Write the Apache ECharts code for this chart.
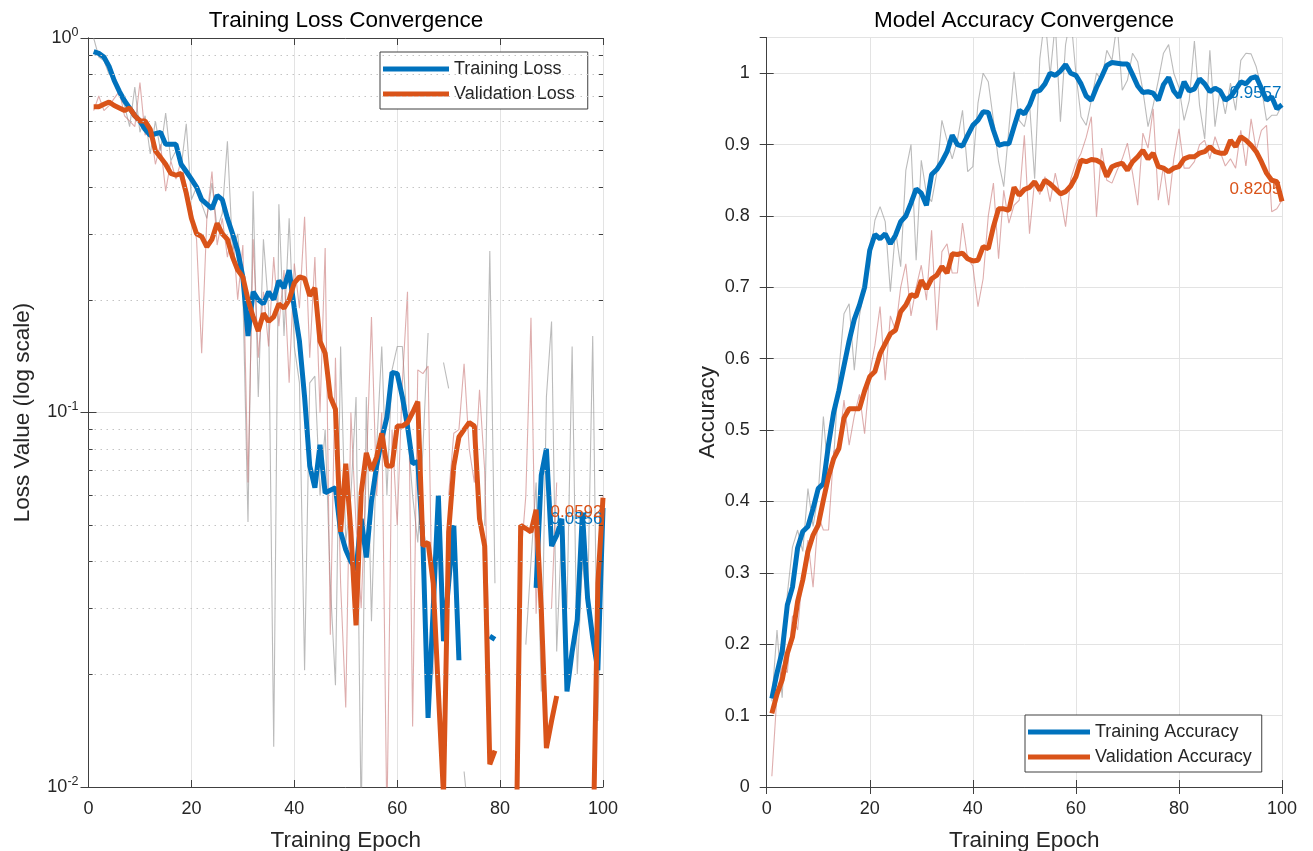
<!DOCTYPE html>
<html>
<head>
<meta charset="utf-8">
<title>Training Convergence</title>
<script src="https://cdn.jsdelivr.net/npm/echarts@6/dist/echarts.min.js"></script>
<style>
  html, body { margin: 0; padding: 0; background: #fff; }
  #main { width: 1313px; height: 851px; }
</style>
</head>
<body>
<div id="main"></div>
<script>
// epochs 1..100
const epochs = Array.from({ length: 100 }, (_, i) => i + 1);

// ---- loss panel (log scale), null = value not positive -> gap ----
const rawTrainLoss = [
  1.00, 0.89, 0.87, 0.80, 0.79, 0.70, 0.66, 0.58, 0.74, 0.56,
  0.62, 0.49, 0.60, 0.50, 0.63, 0.47, 0.50, 0.45, 0.59, 0.37,
  0.40, 0.36, 0.33, 0.41, 0.31, 0.34, 0.53, 0.27, 0.30, 0.21,
  0.051, 0.39, 0.11, 0.29, 0.19, 0.0128, 0.36, 0.16, 0.33, 0.15,
  0.12, 0.0205, 0.12, 0.125, 0.06, 0.09, 0.035, 0.0187, 0.15, 0.045,
  0.06, 0.11, 0.008, 0.11, 0.0277, 0.08, 0.15, 0.06, 0.13, 0.15,
  0.15, 0.09, 0.06, 0.045, 0.08, 0.163, null, null, 0.136, 0.116,
  null, null, 0.011, 0.008, null, null, 0.05, 0.27, 0.035, null,
  null, null, null, null, 0.024, 0.04, 0.065, 0.018, 0.11, 0.175,
  0.023, 0.05, 0.03, 0.15, 0.02, 0.04, 0.03, 0.16, 0.015, 0.055
];
const rawValLoss = [
  0.64, 0.70, 0.64, 0.66, 0.69, 0.72, 0.62, 0.60, 0.58, 0.76,
  0.55, 0.58, 0.46, 0.52, 0.39, 0.47, 0.42, 0.47, 0.40, 0.35,
  0.29, 0.144, 0.33, 0.44, 0.28, 0.33, 0.26, 0.31, 0.20, 0.28,
  0.065, 0.29, 0.14, 0.21, 0.15, 0.26, 0.17, 0.24, 0.12, 0.25,
  0.19, 0.333, 0.14, 0.26, 0.10, 0.275, 0.0255, 0.14, 0.035, 0.0163,
  0.10, 0.05, 0.03, 0.07, 0.18, 0.06, 0.10, 0.008, 0.09, 0.05,
  0.12, 0.21, 0.0145, 0.13, 0.127, 0.133, 0.02, null, null, 0.06,
  0.088, 0.09, 0.135, 0.08, 0.065, 0.115, 0.07, 0.02, null, null,
  null, null, null, 0.04, 0.06, 0.179, 0.029, 0.07, null, 0.03,
  0.065, null, null, null, null, null, null, null, 0.03, 0.06
];
const trainLoss = [
  0.92, 0.91, 0.89, 0.84, 0.77, 0.72, 0.68, 0.65, 0.62, 0.60,
  0.57, 0.55, 0.555, 0.56, 0.52, 0.52, 0.52, 0.46, 0.44, 0.42,
  0.40, 0.37, 0.36, 0.35, 0.38, 0.37, 0.33, 0.30, 0.27, 0.23,
  0.16, 0.21, 0.20, 0.195, 0.21, 0.20, 0.225, 0.215, 0.24, 0.19,
  0.155, 0.11, 0.072, 0.063, 0.082, 0.061, 0.062, 0.063, 0.048, 0.043,
  0.040, 0.038, 0.052, 0.041, 0.058, 0.072, 0.085, 0.097, 0.128, 0.127,
  0.11, 0.092, 0.073, 0.074, 0.045, 0.0153, 0.03, 0.06, 0.0245, 0.035,
  0.05, 0.0218, null, null, null, null, null, 0.0253, 0.0248, null,
  null, null, null, null, null, null, 0.034, 0.068, 0.08, 0.044,
  0.047, 0.052, 0.018, 0.023, 0.028, 0.054, 0.032, 0.025, 0.0205, 0.0556
];
const valLoss = [
  0.655, 0.655, 0.665, 0.675, 0.66, 0.65, 0.64, 0.65, 0.62, 0.60,
  0.60, 0.57, 0.50, 0.48, 0.46, 0.435, 0.43, 0.435, 0.385, 0.33,
  0.30, 0.295, 0.277, 0.29, 0.32, 0.30, 0.29, 0.26, 0.24, 0.23,
  0.20, 0.18, 0.165, 0.184, 0.175, 0.18, 0.195, 0.19, 0.20, 0.222,
  0.23, 0.228, 0.205, 0.215, 0.155, 0.144, 0.11, 0.102, 0.048, 0.073,
  0.048, 0.027, 0.061, 0.078, 0.07, 0.076, 0.088, 0.072, 0.072, 0.092,
  0.092, 0.094, 0.10, 0.107, 0.044, 0.045, 0.035, 0.018, 0.0095, 0.048,
  0.072, 0.086, 0.09, 0.094, 0.092, 0.052, 0.044, 0.0115, 0.0125, null,
  null, null, 0.005, 0.05, 0.049, 0.048, 0.055, 0.03, 0.0127, 0.015,
  0.0175, null, null, null, null, null, null, 0.006, 0.035, 0.0592
];

// ---- accuracy panel ----
const rawTrainAcc = [
  0.12, 0.22, 0.125, 0.27, 0.336, 0.36, 0.33, 0.418, 0.365, 0.41,
  0.519, 0.43, 0.46, 0.582, 0.663, 0.677, 0.584, 0.66, 0.70, 0.74,
  0.794, 0.813, 0.792, 0.694, 0.78, 0.729, 0.864, 0.90, 0.738, 0.878,
  0.831, 0.82, 0.86, 0.934, 0.906, 0.88, 0.906, 0.948, 0.862, 0.869,
  0.958, 1.0, 0.988, 0.934, 0.876, 0.841, 0.922, 1.002, 0.934, 0.925,
  0.958, 0.852, 1.02, 1.08, 0.997, 1.07, 0.932, 1.04, 1.08, 1.0,
  0.939, 0.927, 0.962, 1.0, 0.99, 1.032, 1.018, 1.07, 0.976, 0.99,
  1.028, 1.016, 0.976, 0.925, 0.955, 0.99, 1.028, 1.04, 1.0, 0.98,
  0.934, 0.962, 1.045, 0.955, 0.908, 1.032, 0.925, 0.979, 0.943, 0.986,
  0.948, 1.018, 1.028, 1.027, 1.009, 0.979, 0.934, 0.941, 0.941, 0.955
];
const rawValAcc = [
  0.015, 0.13, 0.17, 0.16, 0.24, 0.22, 0.30, 0.346, 0.28, 0.38,
  0.36, 0.36, 0.47, 0.477, 0.542, 0.479, 0.52, 0.55, 0.495, 0.58,
  0.619, 0.673, 0.57, 0.66, 0.64, 0.70, 0.733, 0.66, 0.70, 0.731,
  0.682, 0.78, 0.64, 0.75, 0.761, 0.72, 0.72, 0.79, 0.74, 0.73,
  0.673, 0.712, 0.80, 0.846, 0.74, 0.836, 0.79, 0.815, 0.822, 0.913,
  0.775, 0.85, 0.83, 0.855, 0.82, 0.86, 0.827, 0.785, 0.852, 0.874,
  0.888, 0.91, 0.939, 0.799, 0.895, 0.85, 0.846, 0.864, 0.88, 0.902,
  0.86, 0.815, 0.916, 0.895, 0.95, 0.822, 0.87, 0.815, 0.88, 0.922,
  0.867, 0.867, 0.876, 0.90, 0.906, 0.88, 0.911, 0.89, 0.87, 0.88,
  0.867, 0.92, 0.87, 0.936, 0.892, 0.92, 0.927, 0.806, 0.81, 0.822
];
const trainAcc = [
  0.124, 0.16, 0.19, 0.255, 0.28, 0.335, 0.358, 0.365, 0.39, 0.418,
  0.425, 0.48, 0.525, 0.555, 0.59, 0.625, 0.655, 0.675, 0.70, 0.752,
  0.774, 0.768, 0.775, 0.761, 0.773, 0.792, 0.80, 0.818, 0.838, 0.832,
  0.815, 0.858, 0.865, 0.876, 0.89, 0.913, 0.90, 0.898, 0.913, 0.927,
  0.934, 0.946, 0.945, 0.92, 0.899, 0.901, 0.901, 0.925, 0.948, 0.943,
  0.955, 0.974, 0.976, 0.985, 1.0, 0.997, 1.003, 1.012, 1.0, 0.997,
  0.985, 0.968, 0.962, 0.98, 0.995, 1.011, 1.015, 1.014, 1.013, 1.013,
  0.998, 0.982, 0.973, 0.974, 0.972, 0.962, 0.984, 0.994, 0.975, 0.966,
  0.988, 0.975, 0.978, 0.992, 0.985, 0.974, 0.979, 0.975, 0.962, 0.967,
  0.977, 0.988, 0.985, 0.993, 0.995, 0.979, 0.962, 0.967, 0.950, 0.9557
];
const valAcc = [
  0.103, 0.13, 0.15, 0.187, 0.21, 0.26, 0.29, 0.33, 0.353, 0.367,
  0.402, 0.435, 0.46, 0.474, 0.517, 0.53, 0.53, 0.53, 0.555, 0.575,
  0.582, 0.607, 0.621, 0.635, 0.64, 0.666, 0.675, 0.69, 0.687, 0.71,
  0.698, 0.712, 0.717, 0.729, 0.72, 0.747, 0.746, 0.748, 0.74, 0.737,
  0.738, 0.757, 0.754, 0.785, 0.81, 0.81, 0.808, 0.84, 0.829, 0.837,
  0.84, 0.848, 0.836, 0.85, 0.845, 0.838, 0.831, 0.834, 0.842, 0.855,
  0.878, 0.876, 0.879, 0.878, 0.874, 0.855, 0.869, 0.872, 0.874, 0.864,
  0.876, 0.883, 0.892, 0.88, 0.888, 0.869, 0.867, 0.862, 0.867, 0.869,
  0.88, 0.883, 0.883, 0.888, 0.89, 0.897, 0.89, 0.888, 0.888, 0.906,
  0.897, 0.911, 0.906, 0.899, 0.89, 0.876, 0.86, 0.85, 0.848, 0.8205
];

// dotted minor grid of the log axis
const minorTicks = [0.02, 0.03, 0.04, 0.05, 0.06, 0.07, 0.08, 0.09,
                    0.2, 0.3, 0.4, 0.5, 0.6, 0.7, 0.8, 0.9];
const finalTrainLoss = '0.0556', finalValLoss = '0.0592';
const finalTrainAcc = '0.9557', finalValAcc = '0.8205';

const BLUE = '#0072BD';
const ORANGE = '#D95319';
const AXIS = '#404040';
const TXT = '#262626';
const FONT = '"Liberation Sans", Arial, Helvetica, sans-serif';

function pairs(arr) {
  return epochs.map((e, i) => [e, arr[i] == null ? '-' : arr[i]]);
}

function xAxes(gridIndex) {
  return [
    {
      gridIndex, type: 'value', position: 'bottom', min: 0, max: 100, interval: 20,
      name: 'Training Epoch', nameLocation: 'middle', nameGap: 42,
      nameTextStyle: { fontSize: 22.5, color: TXT, fontFamily: FONT },
      axisLine: { show: true, lineStyle: { color: AXIS } },
      axisTick: { inside: true, length: 7, lineStyle: { color: AXIS } },
      axisLabel: { fontSize: 18, color: TXT, fontFamily: FONT, margin: 13 },
      splitLine: { show: true, lineStyle: { color: '#e3e3e3' } }
    },
    {
      gridIndex, type: 'value', position: 'top', min: 0, max: 100, interval: 20,
      axisLine: { show: true, lineStyle: { color: AXIS } },
      axisTick: { inside: true, length: 7, lineStyle: { color: AXIS } },
      axisLabel: { show: false },
      splitLine: { show: false }
    }
  ];
}

const thin = (c) => ({ width: 1.1, color: c });

// short minor ticks on the left and right edges of the log axis
const minorTickMarks = [];
minorTicks.forEach((v) => {
  minorTickMarks.push([{ coord: [0, v] }, { coord: [0.8, v] }]);
  minorTickMarks.push([{ coord: [99.2, v] }, { coord: [100, v] }]);
});

const chart = echarts.init(document.getElementById('main'));
chart.setOption({
  animation: false,
  backgroundColor: '#fff',
  textStyle: { fontFamily: FONT },
  title: [
    { text: 'Training Loss Convergence', left: 341, top: 4, textAlign: 'center',
      textStyle: { fontSize: 22.5, fontWeight: 'normal', color: '#000', fontFamily: FONT } },
    { text: 'Model Accuracy Convergence', left: 1019, top: 4, textAlign: 'center',
      textStyle: { fontSize: 22.5, fontWeight: 'normal', color: '#000', fontFamily: FONT } }
  ],
  legend: [
    {
      data: ['Training Loss', 'Validation Loss'],
      orient: 'vertical', left: 380, top: 52,
      padding: [8, 13, 6, 3], itemGap: 7,
      icon: 'rect', itemWidth: 66, itemHeight: 5,
      borderColor: AXIS, borderWidth: 1, backgroundColor: '#fff',
      textStyle: { fontSize: 18, color: TXT, fontFamily: FONT }
    },
    {
      data: ['Training Accuracy', 'Validation Accuracy'],
      orient: 'vertical', left: 1025, top: 715,
      padding: [8, 10, 6, 3], itemGap: 7,
      icon: 'rect', itemWidth: 62, itemHeight: 5,
      borderColor: AXIS, borderWidth: 1, backgroundColor: '#fff',
      textStyle: { fontSize: 18, color: TXT, fontFamily: FONT }
    }
  ],
  grid: [
    { left: 88.5, top: 38, width: 514.5, height: 749, outerBoundsMode: 'none', containLabel: false },
    { left: 766.7, top: 37.5, width: 515.3, height: 749.5, outerBoundsMode: 'none', containLabel: false }
  ],
  xAxis: [...xAxes(0), ...xAxes(1)],
  yAxis: [
    {
      gridIndex: 0, type: 'log', logBase: 10, min: 0.01, max: 1, position: 'left',
      name: 'Loss Value (log scale)', nameLocation: 'middle', nameGap: 54,
      nameTextStyle: { fontSize: 22.5, color: TXT, fontFamily: FONT },
      axisLine: { show: true, lineStyle: { color: AXIS } },
      axisTick: { inside: true, length: 8, lineStyle: { color: AXIS } },
      axisLabel: {
        margin: 10, color: TXT,
        formatter: (v) => '{b|10}{s|' + Math.round(Math.log10(v)) + '}',
        rich: {
          b: { fontSize: 18, lineHeight: 24, color: TXT, fontFamily: FONT },
          s: { fontSize: 12.5, lineHeight: 12, verticalAlign: 'top', color: TXT, fontFamily: FONT }
        }
      },
      splitLine: { show: true, lineStyle: { color: '#e3e3e3' } }
    },
    {
      gridIndex: 0, type: 'log', logBase: 10, min: 0.01, max: 1, position: 'right',
      axisLine: { show: true, lineStyle: { color: AXIS } },
      axisTick: { inside: true, length: 8, lineStyle: { color: AXIS } },
      axisLabel: { show: false },
      splitLine: { show: false }
    },
    {
      gridIndex: 1, type: 'value', min: 0, max: 1.05, interval: 0.1, position: 'left',
      name: 'Accuracy', nameLocation: 'middle', nameGap: 47,
      nameTextStyle: { fontSize: 22.5, color: TXT, fontFamily: FONT },
      axisLine: { show: true, lineStyle: { color: AXIS } },
      axisTick: { inside: true, length: 7, lineStyle: { color: AXIS } },
      axisLabel: { fontSize: 18, color: TXT, fontFamily: FONT, margin: 17, showMaxLabel: false },
      splitLine: { show: true, lineStyle: { color: '#e3e3e3' } }
    },
    {
      gridIndex: 1, type: 'value', min: 0, max: 1.05, interval: 0.1, position: 'right',
      axisLine: { show: true, lineStyle: { color: AXIS } },
      axisTick: { inside: true, length: 7, lineStyle: { color: AXIS } },
      axisLabel: { show: false },
      splitLine: { show: false }
    }
  ],
  series: [
    // loss: raw curves (the first one also carries the minor grid)
    {
      name: 'rawTrainLoss', type: 'line', xAxisIndex: 0, yAxisIndex: 0,
      data: pairs(rawTrainLoss), symbol: 'none', lineStyle: thin('rgba(150,150,150,0.65)'),
      markLine: {
        silent: true, symbol: ['none', 'none'], label: { show: false },
        lineStyle: { color: '#c4c4c4', width: 1, type: [1.5, 4.5] },
        data: minorTicks.map((v) => ({ yAxis: v }))
      }
    },
    {
      name: 'rawValLoss', type: 'line', xAxisIndex: 0, yAxisIndex: 0,
      data: pairs(rawValLoss), symbol: 'none', lineStyle: thin('rgba(195,105,105,0.55)'),
      markLine: {
        silent: true, symbol: ['none', 'none'], label: { show: false },
        lineStyle: { color: AXIS, width: 1, type: 'solid' },
        data: minorTickMarks
      }
    },
    // loss: smoothed
    {
      name: 'Training Loss', type: 'line', xAxisIndex: 0, yAxisIndex: 0, color: BLUE,
      data: pairs(trainLoss), symbol: 'none', lineStyle: { width: 5, color: BLUE },
      markPoint: {
        symbol: 'circle', symbolSize: 1, itemStyle: { color: 'rgba(0,0,0,0)' },
        label: { show: true, position: 'left', distance: 0, formatter: finalTrainLoss,
                 color: BLUE, fontSize: 17, fontFamily: FONT, offset: [0, 11] },
        data: [{ coord: [100, Number(finalTrainLoss)] }]
      }
    },
    {
      name: 'Validation Loss', type: 'line', xAxisIndex: 0, yAxisIndex: 0, color: ORANGE,
      data: pairs(valLoss), symbol: 'none', lineStyle: { width: 5, color: ORANGE },
      markPoint: {
        symbol: 'circle', symbolSize: 1, itemStyle: { color: 'rgba(0,0,0,0)' },
        label: { show: true, position: 'left', distance: 0, formatter: finalValLoss,
                 color: ORANGE, fontSize: 17, fontFamily: FONT, offset: [0, 15] },
        data: [{ coord: [100, Number(finalValLoss)] }]
      }
    },
    // accuracy: raw curves
    {
      name: 'rawTrainAcc', type: 'line', xAxisIndex: 2, yAxisIndex: 2,
      data: pairs(rawTrainAcc), symbol: 'none', lineStyle: thin('rgba(150,150,150,0.65)')
    },
    {
      name: 'rawValAcc', type: 'line', xAxisIndex: 2, yAxisIndex: 2,
      data: pairs(rawValAcc), symbol: 'none', lineStyle: thin('rgba(195,105,105,0.55)')
    },
    // accuracy: smoothed
    {
      name: 'Training Accuracy', type: 'line', xAxisIndex: 2, yAxisIndex: 2, color: BLUE,
      data: pairs(trainAcc), symbol: 'none', lineStyle: { width: 5, color: BLUE },
      markPoint: {
        symbol: 'circle', symbolSize: 1, itemStyle: { color: 'rgba(0,0,0,0)' },
        label: { show: true, position: 'left', distance: 0, formatter: finalTrainAcc,
                 color: BLUE, fontSize: 17, fontFamily: FONT, offset: [0, -11] },
        data: [{ coord: [100, Number(finalTrainAcc)] }]
      }
    },
    {
      name: 'Validation Accuracy', type: 'line', xAxisIndex: 2, yAxisIndex: 2, color: ORANGE,
      data: pairs(valAcc), symbol: 'none', lineStyle: { width: 5, color: ORANGE },
      markPoint: {
        symbol: 'circle', symbolSize: 1, itemStyle: { color: 'rgba(0,0,0,0)' },
        label: { show: true, position: 'left', distance: 0, formatter: finalValAcc,
                 color: ORANGE, fontSize: 17, fontFamily: FONT, offset: [0, -12] },
        data: [{ coord: [100, Number(finalValAcc)] }]
      }
    }
  ]
});
</script>
</body>
</html>
